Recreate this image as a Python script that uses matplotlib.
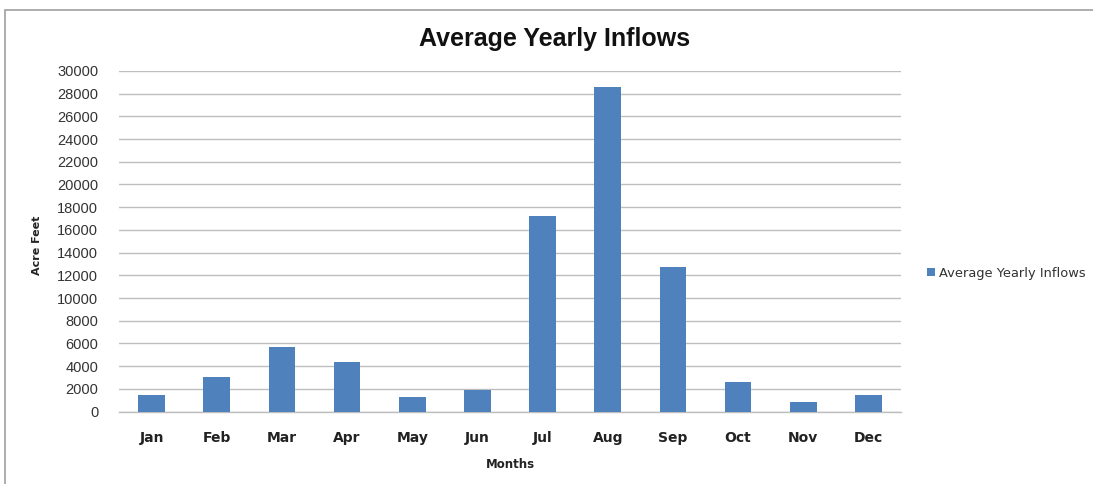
import matplotlib
matplotlib.use("Agg")
import matplotlib.pyplot as plt
from matplotlib.patches import Rectangle
from matplotlib import font_manager

months = ["Jan", "Feb", "Mar", "Apr", "May", "Jun", "Jul", "Aug", "Sep", "Oct", "Nov", "Dec"]
inflows = [1470, 3070, 5640, 4400, 1320, 1880, 17200, 28550, 12700, 2600, 820, 1440]
yticks = list(range(0, 30001, 2000))

names = {f.name for f in font_manager.fontManager.ttflist}
narrow = "Liberation Sans Narrow" if "Liberation Sans Narrow" in names else "Liberation Sans"

W, H = 1093, 484
fig = plt.figure(figsize=(W / 100, H / 100), dpi=100)
ax = fig.add_axes([119 / W, 1 - 411.5 / H, (901 - 119) / W, (411.5 - 71) / H])

x = list(range(len(months)))
ax.bar(x, inflows, width=0.41, color="#4F81BD", label="Average Yearly Inflows", zorder=3)

ax.set_xlim(-0.5, len(months) - 0.5)
ax.set_ylim(0, 30000)
ax.set_yticks(yticks)
ax.set_yticklabels([str(v) for v in yticks], fontsize=10.5, family=narrow, color="#333333")
ax.set_xticks(x)
ax.set_xticklabels(months, fontsize=10, fontweight="bold", family="DejaVu Sans", color="#222222")
ax.tick_params(axis="both", length=0)
ax.tick_params(axis="x", pad=14)
ax.tick_params(axis="y", pad=15)
ax.yaxis.grid(True, color="#BEBEBE", linewidth=1, zorder=0)
for s in ["left", "right", "top"]:
    ax.spines[s].set_visible(False)
ax.spines["bottom"].set_color("#BEBEBE")
ax.spines["bottom"].set_linewidth(1)

fig.text(555 / W, 1 - 39 / H, "Average Yearly Inflows", ha="center", va="center",
         fontsize=18, fontweight="bold", family=narrow, color="#111111")
fig.text(510 / W, 1 - 465 / H, "Months", ha="center", va="center",
         fontsize=8.5, fontweight="bold", family="DejaVu Sans", color="#222222")
fig.text(37 / W, 1 - 245 / H, "Acre Feet", ha="center", va="center", rotation=90,
         fontsize=8, fontweight="bold", family="DejaVu Sans", color="#222222")

leg = fig.legend(loc="center left", bbox_to_anchor=(927 / W, 1 - 273 / H), frameon=False,
                 prop={"family": "DejaVu Sans", "size": 9.4}, handlelength=0.65,
                 handleheight=0.65, handletextpad=0.25, borderpad=0, borderaxespad=0)
for t in leg.get_texts():
    t.set_color("#333333")

fig.patches.append(Rectangle((5 / W, -0.1), 1.2, 1 - 10 / H + 0.1, transform=fig.transFigure,
                             fill=False, edgecolor="#A0A0A0", linewidth=1.2))

fig.savefig("out.png", dpi=100)
